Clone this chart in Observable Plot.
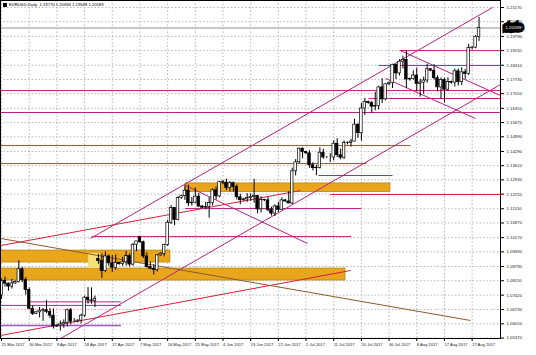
<!DOCTYPE html>
<html><head><meta charset="utf-8">
<script src="https://cdn.jsdelivr.net/npm/d3@7"></script>
<script src="https://cdn.jsdelivr.net/npm/@observablehq/plot@0.6"></script>
<style>
body{margin:0;background:#fff;font-family:"Liberation Sans",Arial,sans-serif;}
#wrap{position:relative;width:536px;height:355px;overflow:hidden;}
#title{position:absolute;left:3px;top:2px;font-size:4.2px;line-height:5px;color:#000;white-space:pre;font-family:"Liberation Sans",Arial,sans-serif;}
#title span{display:inline-block;width:4px;height:4px;background:#000;margin-right:2px;vertical-align:-0.5px;}
</style></head><body>
<div id="wrap"><div id="chart"></div><div id="title"><span></span>EURUSD,Daily  1.19770 1.20694 1.19548 1.20189</div></div>
<script>
// ---- data ----
const firstIndex = -1; // 20 Mar 2017
const opens  = [1.0737,1.0741,1.0810,1.0797,1.0783,1.0798,1.0805,1.0866,1.0815,1.0766,1.0677,1.0652,1.0660,1.0668,1.0670,1.0662,1.0644,1.0592,1.0596,1.0602,1.0609,1.0670,1.0615,1.0615,1.0620,1.0644,1.0730,1.0717,1.0715,1.0915,1.0905,1.0857,1.0927,1.0894,1.0873,1.0896,1.0890,1.0899,1.0929,1.0888,1.0983,1.1020,1.0995,1.0927,1.0876,1.0869,1.0862,1.0932,1.0940,1.0981,1.1088,1.1159,1.1101,1.1206,1.1215,1.1242,1.1181,1.1184,1.1213,1.1166,1.1160,1.1164,1.1182,1.1243,1.1214,1.1282,1.1280,1.1255,1.1277,1.1259,1.1210,1.1196,1.1200,1.1206,1.1211,1.1216,1.1152,1.1197,1.1195,1.1149,1.1132,1.1166,1.1150,1.1195,1.1190,1.1180,1.1334,1.1377,1.1442,1.1426,1.1420,1.1363,1.1349,1.1350,1.1423,1.1400,1.1400,1.1400,1.1466,1.1411,1.1399,1.1469,1.1470,1.1476,1.1557,1.1516,1.1634,1.1665,1.1660,1.1643,1.1646,1.1735,1.1678,1.1750,1.1755,1.1843,1.1802,1.1858,1.1866,1.1773,1.1775,1.1792,1.1752,1.1758,1.1768,1.1822,1.1815,1.1779,1.1735,1.1771,1.1724,1.1761,1.1758,1.1812,1.1760,1.1807,1.1799,1.1923,1.1925,1.1977];
const highs  = [1.0777,1.0819,1.0828,1.0800,1.0818,1.0810,1.0906,1.0875,1.0825,1.0777,1.0691,1.0662,1.0683,1.0679,1.0716,1.0678,1.0676,1.0600,1.0618,1.0624,1.0675,1.0678,1.0630,1.0625,1.0651,1.0737,1.0778,1.0777,1.0737,1.0937,1.0939,1.0949,1.0934,1.0932,1.0934,1.0900,1.0923,1.0951,1.0939,1.0989,1.0999,1.1023,1.1000,1.0944,1.0899,1.0888,1.0935,1.0945,1.0985,1.1100,1.1170,1.1160,1.1213,1.1220,1.1265,1.1268,1.1209,1.1254,1.1228,1.1170,1.1186,1.1208,1.1251,1.1259,1.1285,1.1290,1.1297,1.1285,1.1283,1.1269,1.1225,1.1205,1.1227,1.1226,1.1296,1.1219,1.1212,1.1200,1.1209,1.1163,1.1174,1.1185,1.1207,1.1200,1.1236,1.1349,1.1390,1.1445,1.1446,1.1430,1.1433,1.1375,1.1363,1.1446,1.1440,1.1405,1.1418,1.1480,1.1490,1.1440,1.1479,1.1475,1.1487,1.1583,1.1560,1.1658,1.1683,1.1670,1.1668,1.1712,1.1741,1.1777,1.1752,1.1760,1.1846,1.1846,1.1868,1.1885,1.1909,1.1780,1.1814,1.1827,1.1774,1.1784,1.1846,1.1825,1.1844,1.1790,1.1780,1.1779,1.1781,1.1765,1.1823,1.1823,1.1829,1.1821,1.1941,1.1930,1.1983,1.20694];
const lows   = [1.0716,1.0722,1.0780,1.0761,1.0771,1.0795,1.0800,1.0802,1.0742,1.0673,1.0645,1.0650,1.0633,1.0617,1.0654,1.0630,1.0580,1.0588,1.0570,1.0584,1.0590,1.0600,1.0610,1.0610,1.0605,1.0636,1.0699,1.0699,1.0683,1.0890,1.0822,1.0850,1.0880,1.0851,1.0861,1.0885,1.0880,1.0881,1.0877,1.0881,1.0950,1.0990,1.0918,1.0871,1.0863,1.0838,1.0853,1.0928,1.0925,1.0975,1.1080,1.1074,1.1097,1.1200,1.1195,1.1165,1.1167,1.1180,1.1160,1.1155,1.1150,1.1110,1.1168,1.1196,1.1208,1.1270,1.1241,1.1236,1.1235,1.1197,1.1174,1.1190,1.1186,1.1190,1.1181,1.1131,1.1135,1.1190,1.1140,1.1120,1.1118,1.1137,1.1148,1.1185,1.1180,1.1175,1.1312,1.1370,1.1394,1.1415,1.1349,1.1336,1.1313,1.1345,1.1392,1.1395,1.1376,1.1384,1.1400,1.1389,1.1391,1.1460,1.1450,1.1475,1.1492,1.1478,1.1601,1.1655,1.1612,1.1623,1.1627,1.1658,1.1671,1.1745,1.1730,1.1773,1.1790,1.1823,1.1729,1.1765,1.1770,1.1715,1.1689,1.1702,1.1755,1.1810,1.1770,1.1713,1.1680,1.1661,1.1718,1.1750,1.1737,1.1742,1.1743,1.1774,1.1792,1.1915,1.1920,1.19548];
const closes = [1.0741,1.0810,1.0797,1.0783,1.0798,1.0805,1.0866,1.0815,1.0766,1.0677,1.0652,1.0660,1.0668,1.0670,1.0662,1.0644,1.0592,1.0596,1.0602,1.0609,1.0670,1.0615,1.0615,1.0620,1.0644,1.0730,1.0717,1.0715,1.0724,1.0905,1.0857,1.0927,1.0894,1.0873,1.0896,1.0890,1.0899,1.0929,1.0888,1.0983,1.0999,1.0995,1.0927,1.0876,1.0869,1.0862,1.0932,1.0940,1.0981,1.1088,1.1159,1.1101,1.1206,1.1215,1.1242,1.1181,1.1184,1.1213,1.1166,1.1160,1.1164,1.1182,1.1243,1.1214,1.1282,1.1280,1.1255,1.1277,1.1259,1.1210,1.1196,1.1200,1.1206,1.1211,1.1216,1.1152,1.1197,1.1195,1.1149,1.1132,1.1166,1.1150,1.1195,1.1190,1.1180,1.1334,1.1377,1.1442,1.1426,1.1420,1.1363,1.1349,1.1350,1.1423,1.1400,1.1400,1.1400,1.1466,1.1411,1.1399,1.1469,1.1470,1.1476,1.1557,1.1516,1.1634,1.1665,1.1660,1.1643,1.1646,1.1735,1.1678,1.1750,1.1755,1.1843,1.1802,1.1858,1.1866,1.1773,1.1775,1.1792,1.1752,1.1758,1.1768,1.1822,1.1815,1.1779,1.1735,1.1771,1.1724,1.1761,1.1758,1.1812,1.1760,1.1807,1.1799,1.1923,1.1925,1.1977,1.20189];
const bid = [1.20189];

const xTickIndex = [0,8,16,24,32,40,48,56,64,72,80,88,96,104,112,120,128,136];
const xTickLabels = ["21 Mar 2017","30 Mar 2017","9 Apr 2017","18 Apr 2017","27 Apr 2017","7 May 2017","16 May 2017","25 May 2017","4 Jun 2017","13 Jun 2017","22 Jun 2017","2 Jul 2017","11 Jul 2017","20 Jul 2017","30 Jul 2017","8 Aug 2017","17 Aug 2017","27 Aug 2017"];
const yTicks = [1.21170,1.20490,1.19790,1.19110,1.18410,1.17730,1.17050,1.16350,1.15670,1.14990,1.14290,1.13610,1.12930,1.12250,1.11550,1.10870,1.10170,1.09490,1.08790,1.08110,1.07420,1.06730,1.06050,1.05370];

// drawn objects: [bar1, price1, bar2, price2]
const magentaLines = [
  [-0.3,1.1720,144.2,1.1720],
  [-0.3,1.1615,144.2,1.1615],
  [115,1.1911,144.2,1.1911],
  [109,1.1840,144.2,1.1840],
  [106,1.1682,144.2,1.1682],
  [25.7,1.1013,141.9,1.2117],
  [17.1,1.0535,144.2,1.1749],
  [115.3,1.1911,144.2,1.1696],
  [111,1.1778,137,1.1586],
  [53.2,1.1266,88.4,1.0989],
  [91.6,1.1314,113,1.1314],
  [53,1.1156,104,1.1156],
  [26,1.1022,101,1.1022],
  [-0.3,1.0693,34.5,1.0693],
  [8,1.0710,34.5,1.0710]
];
const purpleLines = [[-0.3,1.0597,34.5,1.0597]];
const redLines = [
  [-0.3,1.0979,86.4,1.1242],
  [-0.3,1.0549,100.9,1.0860],
  [95,1.1223,144.2,1.1223]
];
const brownLines = [
  [-0.3,1.1457,118.2,1.1457],
  [-0.3,1.1371,105.5,1.1371],
  [-0.3,1.1013,135.5,1.0621]
];
const goldBands = [
  [53.2,1.1235,112.4,1.1276],
  [-0.3,1.0898,48.8,1.0955],
  [-0.3,1.0812,99.4,1.0869]
];
const paleBands = [[25.2,1.0869,28.6,1.0941]];

// ---- build ----
const candles = opens.map((o,k)=>({i:k+firstIndex,open:o,high:highs[k],low:lows[k],close:closes[k]}));
const seg = a => a.map(([x1,y1,x2,y2])=>({x1,y1,x2,y2}));
const labelOf = new Map(xTickIndex.map((v,k)=>[v,xTickLabels[k]]));
const lastBar = 144.2;

const chart = Plot.plot({
  width:536, height:355,
  marginLeft:0, marginRight:36, marginTop:0, marginBottom:17,
  style:{fontFamily:"Liberation Sans, Arial, sans-serif", background:"#fff", overflow:"visible"},
  x:{domain:[-0.3,lastBar]},
  y:{domain:[1.05348,1.21505]},
  marks:[
    Plot.gridX(xTickIndex,{stroke:"#b8b8b8",strokeOpacity:1,strokeDasharray:"1.5,2"}),
    Plot.gridY(yTicks,{stroke:"#b8b8b8",strokeOpacity:1,strokeDasharray:"1.5,2"}),
    Plot.rect(seg(goldBands),{x1:"x1",x2:"x2",y1:"y1",y2:"y2",fill:"#e9a51c",stroke:"#b8860b",strokeWidth:0.8}),
    Plot.rect(seg(paleBands),{x1:"x1",x2:"x2",y1:"y1",y2:"y2",fill:"#f5e27a"}),
    Plot.ruleY(bid,{stroke:"#c8c8c8",strokeWidth:2}),
    Plot.link(seg(brownLines),{x1:"x1",y1:"y1",x2:"x2",y2:"y2",stroke:"#8b5a2b",strokeWidth:1}),
    Plot.link(seg(redLines),{x1:"x1",y1:"y1",x2:"x2",y2:"y2",stroke:"#d8203a",strokeWidth:1}),
    Plot.link(seg(magentaLines),{x1:"x1",y1:"y1",x2:"x2",y2:"y2",stroke:"#b4237f",strokeWidth:1}),
    Plot.link(seg(purpleLines),{x1:"x1",y1:"y1",x2:"x2",y2:"y2",stroke:"#9b59c9",strokeWidth:1.5}),
    Plot.ruleX(candles,{x:"i",y1:"low",y2:"high",stroke:"#000",strokeWidth:1}),
    Plot.rect(candles,{x1:d=>d.i-0.37,x2:d=>d.i+0.37,y1:"open",y2:"close",
      fill:d=>d.close>=d.open?"#fff":"#000",stroke:"#000",strokeWidth:0.7}),
    Plot.frame({stroke:"#000",strokeWidth:1}),
    Plot.axisY(yTicks,{anchor:"right",tickSize:3,tickPadding:3,fontSize:4.3,stroke:"#000",
      tickFormat:d=>d.toFixed(5),fill:"#222"}),
    Plot.axisX(xTickIndex,{anchor:"bottom",tickSize:3,tickPadding:2,fontSize:4.1,textAnchor:"start",dx:0,
      tickFormat:d=>labelOf.get(d),fill:"#222",stroke:"#000"}),
    Plot.text(bid,{x:lastBar,y:d=>d,text:d=>d.toFixed(5),textAnchor:"start",dx:5,fontSize:4.3,
      fill:"#fff",stroke:"#000",strokeWidth:7,paintOrder:"stroke",strokeLinejoin:"miter"})
  ]
});
document.getElementById("chart").appendChild(chart);
</script>
</body></html>
